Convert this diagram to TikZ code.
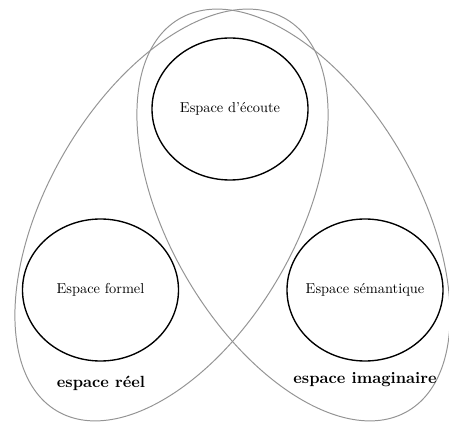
\documentclass[tikz,border=0pt]{standalone}
\usetikzlibrary{shapes.geometric}
\begin{document}
\begin{tikzpicture}[x=0.661pt,y=0.661pt,
  spacelabel/.style={inner sep=0pt, font=\fontsize{9.5pt}{11pt}\selectfont},
  spacering/.style={draw=black, line width=0.9pt},
  region/.style={draw=black!42, line width=0.65pt},
  zone/.style={font=\fontsize{10.7pt}{12pt}\selectfont\bfseries, inner sep=0pt}]
\useasboundingbox (0,0) rectangle (449,422);
% gray regions
\draw[region, rotate around={59.8:(171.5,207)}] (171.5,207) ellipse [x radius=227, y radius=124];
\draw[region, rotate around={-59.8:(293.5,207)}] (293.5,207) ellipse [x radius=227, y radius=124];
% black spaces
\node[spacelabel] (ecoute) at (230,313) {Espace d'écoute};
\node[spacelabel] (formel) at (100.5,132) {Espace formel};
\node[spacelabel] (semantique) at (365,132) {Espace sémantique};
\draw[spacering] (ecoute.center) ellipse [x radius=78, y radius=71];
\draw[spacering] (formel.center) ellipse [x radius=78, y radius=71];
\draw[spacering] (semantique.center) ellipse [x radius=78, y radius=71];
% labels
\node[zone] (reel) at (101,39) {espace réel};
\node[zone] (imag) at (365,42) {espace imaginaire};
\end{tikzpicture}
\end{document}
